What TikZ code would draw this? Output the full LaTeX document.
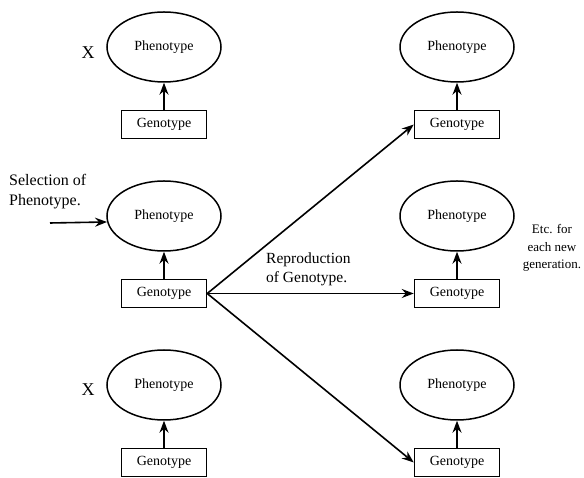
\documentclass[tikz,border=0pt]{standalone}
\usepackage{fontspec}
\setmainfont{Liberation Serif}
\usetikzlibrary{arrows.meta,positioning,shapes.geometric}

\begin{document}
\begin{tikzpicture}[
  x=1pt, y=1pt,
  node distance=27pt and 10pt,
  pheno/.style={draw, ellipse, line width=1.5pt, minimum width=114pt, minimum height=70pt, inner sep=0pt, font=\fontsize{14}{16}\selectfont},
  geno/.style={draw, line width=1.5pt, minimum width=85pt, minimum height=28pt, inner sep=0pt, font=\fontsize{14}{16}\selectfont},
  note/.style={align=left, inner sep=0pt, font=\fontsize{15.5}{19}\selectfont},
  cross/.style={inner sep=0pt, font=\fontsize{18}{20}\selectfont},
  arr/.style={-{Stealth[length=12pt,width=9pt,inset=4pt]}, line width=1.6pt}
]
\useasboundingbox (0,0) rectangle (584,478);

\node[pheno] (pL1) at (164,431) {Phenotype};
\node[geno, below=of pL1] (gL1) {Genotype};
\node[pheno] (pL2) at (164,262) {Phenotype};
\node[geno, below=of pL2] (gL2) {Genotype};
\node[pheno] (pL3) at (164,93) {Phenotype};
\node[geno, below=of pL3] (gL3) {Genotype};

\node[pheno] (pR1) at (457,431) {Phenotype};
\node[geno, below=of pR1] (gR1) {Genotype};
\node[pheno] (pR2) at (457,262) {Phenotype};
\node[geno, below=of pR2] (gR2) {Genotype};
\node[pheno] (pR3) at (457,93) {Phenotype};
\node[geno, below=of pR3] (gR3) {Genotype};

\node[cross] (x1) at (88,425) {X};
\node[cross] (x3) at (88,88) {X};

\node[note, anchor=west, font=\fontsize{16}{20}\selectfont] (sel) at (9,286) {Selection of\\Phenotype.};
\node[note, anchor=west] (repro) at (266,209) {Reproduction\\of Genotype.};
\node[note, align=center, font=\fontsize{13}{17.5}\selectfont] (etc) at (552,230) {Etc. for\\each new\\generation.};

\coordinate (selstart) at (50,255);

\draw[arr] (gL1) -- (pL1);
\draw[arr] (gL2) -- (pL2);
\draw[arr] (gL3) -- (pL3);
\draw[arr] (gR1) -- (pR1);
\draw[arr] (gR2) -- (pR2);
\draw[arr] (gR3) -- (pR3);

\draw[arr] (selstart) -- (pL2.186);

\draw[arr] (gL2.east) -- (gR1.west);
\draw[arr] (gL2.east) -- (gR2.west);
\draw[arr] (gL2.east) -- (gR3.west);

\end{tikzpicture}
\end{document}
